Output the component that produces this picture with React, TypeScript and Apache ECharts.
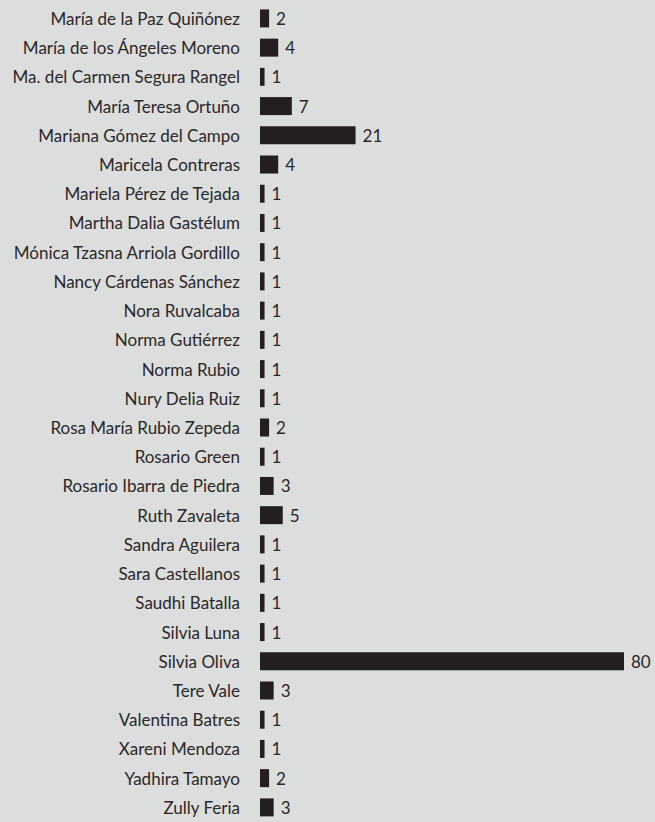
import React, { useEffect, useRef } from "react";
import * as echarts from "echarts";

const names = [
  "María de la Paz Quiñónez",
  "María de los Ángeles Moreno",
  "Ma. del Carmen Segura Rangel",
  "María Teresa Ortuño",
  "Mariana Gómez del Campo",
  "Maricela Contreras",
  "Mariela Pérez de Tejada",
  "Martha Dalia Gastélum",
  "Mónica Tzasna Arriola Gordillo",
  "Nancy Cárdenas Sánchez",
  "Nora Ruvalcaba",
  "Norma Gutiérrez",
  "Norma Rubio",
  "Nury Delia Ruiz",
  "Rosa María Rubio Zepeda",
  "Rosario Green",
  "Rosario Ibarra de Piedra",
  "Ruth Zavaleta",
  "Sandra Aguilera",
  "Sara Castellanos",
  "Saudhi Batalla",
  "Silvia Luna",
  "Silvia Oliva",
  "Tere Vale",
  "Valentina Batres",
  "Xareni Mendoza",
  "Yadhira Tamayo",
  "Zully Feria",
];

const counts = [2, 4, 1, 7, 21, 4, 1, 1, 1, 1, 1, 1, 1, 1, 2, 1, 3, 5, 1, 1, 1, 1, 80, 3, 1, 1, 2, 3];

export default function App() {
  const ref = useRef<HTMLDivElement>(null);
  useEffect(() => {
    if (!ref.current) return;
    const chart = echarts.init(ref.current, null, { renderer: "svg" });
    const font = "Lato, 'Noto Sans', sans-serif";
    chart.setOption({
      animation: false,
      backgroundColor: "#dcdddd",
      grid: { left: 260, width: 364, top: 3.8, height: 821.3, containLabel: false },
      xAxis: {
        type: "value",
        min: 0,
        max: 80,
        show: false,
      },
      yAxis: {
        type: "category",
        data: names,
        inverse: true,
        axisLine: { show: false },
        axisTick: { show: false },
        splitLine: { show: false },
        axisLabel: {
          margin: 20,
          color: "#2b2829",
          fontFamily: font,
          fontSize: 17,
        },
      },
      series: [
        {
          type: "bar",
          data: counts,
          barWidth: 18,
          itemStyle: { color: "#231f20" },
          label: {
            show: true,
            position: "right",
            distance: 7,
            color: "#2b2829",
            fontFamily: font,
            fontSize: 17,
          },
        },
      ],
    });
    return () => chart.dispose();
  }, []);
  return (
    <div
      ref={ref}
      style={{ position: "fixed", left: 0, top: 0, width: 655, height: 822 }}
    />
  );
}
